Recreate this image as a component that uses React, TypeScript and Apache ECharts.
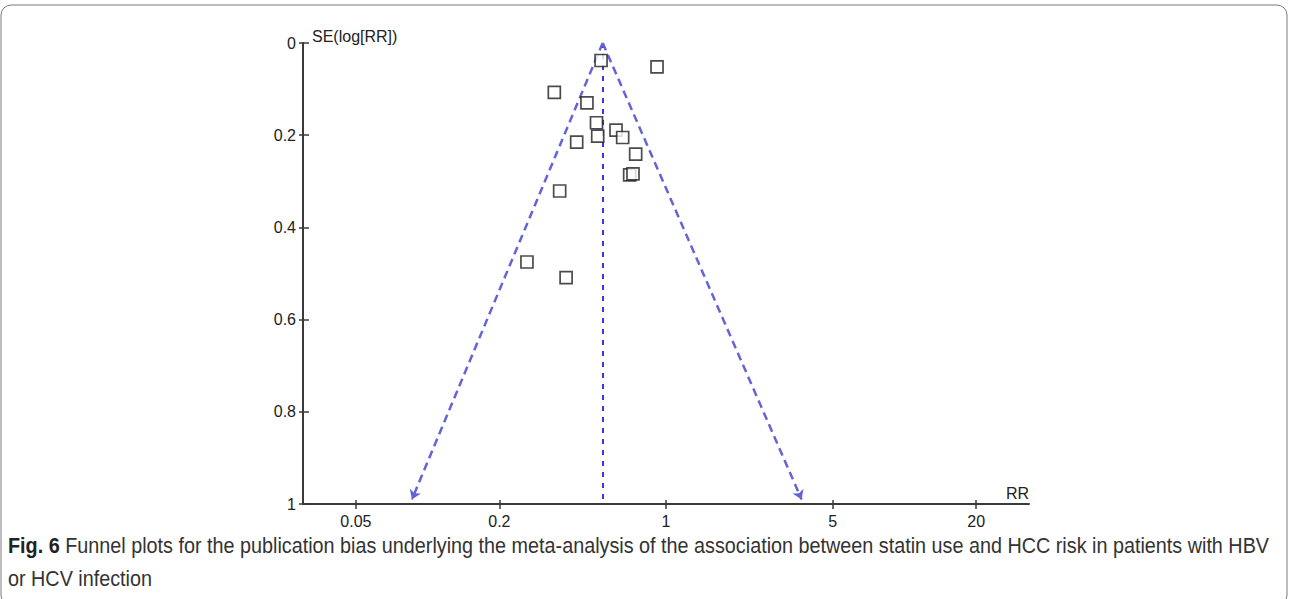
import React, { useEffect, useRef } from "react";
import * as echarts from "echarts";

// Study estimates
const rrValues = [0.534, 0.917, 0.340, 0.466, 0.511, 0.517, 0.617, 0.658, 0.422, 0.746, 0.704, 0.727, 0.358, 0.261, 0.381];
const seValues = [0.038, 0.052, 0.107, 0.130, 0.173, 0.202, 0.189, 0.205, 0.215, 0.241, 0.286, 0.284, 0.321, 0.475, 0.509];

// Funnel (pooled estimate and the ends of the pseudo-confidence lines)
const pooledRR = 0.5425;
const funnelTipRR = [0.0859, 3.706];
const funnelTipSE = 0.99;

// Axes
const xTickValues = [0.05, 0.2, 1, 5, 20];
const xRange = [0.03, 33.33];
const yRange = [0, 1];
const yInterval = 0.2;

const captionBold = "Fig. 6";
const captionLine1 =
  " Funnel plots for the publication bias underlying the meta-analysis of the association between statin use and HCC risk in patients with HBV";
const captionLine2 = "or HCV infection";

const AXIS_COLOR = "#3a3a3a";
const LABEL_FONT = "'Liberation Sans', Arial, sans-serif";
const CAPTION_FONT = "'Liberation Sans', Arial, sans-serif";
const CAPTION_SCALE = 0.9;
const CAPTION_SIZE = 22;

export default function App() {
  const ref = useRef<HTMLDivElement>(null);

  useEffect(() => {
    if (!ref.current) return;
    const chart = echarts.init(ref.current, null, { renderer: "svg" });
    const lg = (v: number) => Math.log10(v);
    const xTicksLog = xTickValues.map(lg);
    const fmtX = (v: number) => String(Number(Math.pow(10, v).toPrecision(3)));

    const xBase = {
      type: "value" as const,
      min: lg(xRange[0]),
      max: lg(xRange[1]),
      splitLine: { show: false },
      position: "bottom" as const,
    };
    const yBase = {
      type: "value" as const,
      min: yRange[0],
      max: yRange[1],
      interval: yInterval,
      inverse: true,
      splitLine: { show: false },
      position: "left" as const,
    };

    const option: any = {
      animation: false,
      backgroundColor: "#ffffff",
      grid: { left: 303, top: 43, width: 726, height: 461, containLabel: false },
      xAxis: [
        {
          ...xBase,
          axisLine: { show: true, onZero: false, lineStyle: { color: AXIS_COLOR, width: 2 } },
          axisTick: { show: true, length: 5, inside: false, customValues: xTicksLog, lineStyle: { color: AXIS_COLOR, width: 1.5 } },
          axisLabel: {
            show: true,
            customValues: xTicksLog,
            formatter: fmtX,
            margin: 9,
            color: "#222",
            fontSize: 16,
            fontFamily: LABEL_FONT,
          },
        },
        {
          ...xBase,
          axisLine: { show: false, onZero: false },
          axisTick: { show: true, length: 4, inside: true, customValues: xTicksLog, lineStyle: { color: AXIS_COLOR, width: 1.5 } },
          axisLabel: { show: false },
        },
      ],
      yAxis: [
        {
          ...yBase,
          axisLine: { show: true, onZero: false, lineStyle: { color: AXIS_COLOR, width: 2 } },
          axisTick: { show: true, length: 4, inside: false, lineStyle: { color: AXIS_COLOR, width: 1.5 } },
          axisLabel: {
            show: true,
            margin: 7,
            color: "#222",
            fontSize: 16,
            fontFamily: LABEL_FONT,
            formatter: (v: number) => String(Number(v.toFixed(1))),
          },
        },
        {
          ...yBase,
          axisLine: { show: false, onZero: false },
          axisTick: { show: true, length: 6, inside: true, lineStyle: { color: AXIS_COLOR, width: 1.5 } },
          axisLabel: { show: false },
        },
      ],
      series: [
        {
          type: "line",
          xAxisIndex: 0,
          yAxisIndex: 0,
          data: [],
          z: 2,
          markLine: {
            silent: true,
            animation: false,
            label: { show: false },
            data: [
              [
                { coord: [lg(pooledRR), 0], symbol: "none", lineStyle: { color: "#3838e0", width: 2, type: [5, 6] } },
                { coord: [lg(pooledRR), funnelTipSE], symbol: "none" },
              ],
              [
                { coord: [lg(pooledRR), 0], symbol: "none", lineStyle: { color: "#6464d8", width: 2.5, type: [8, 5] } },
                { coord: [lg(funnelTipRR[0]), funnelTipSE], symbol: "arrow", symbolSize: 9 },
              ],
              [
                { coord: [lg(pooledRR), 0], symbol: "none", lineStyle: { color: "#6464d8", width: 2.5, type: [8, 5] } },
                { coord: [lg(funnelTipRR[1]), funnelTipSE], symbol: "arrow", symbolSize: 9 },
              ],
            ],
            itemStyle: { color: "#6464d8" },
          },
        },
        {
          type: "scatter",
          xAxisIndex: 0,
          yAxisIndex: 0,
          z: 5,
          symbol: "rect",
          symbolSize: 12,
          itemStyle: { color: "#ffffff", borderColor: "#1e1e1e", borderWidth: 1.7 },
          data: rrValues.map((r, i) => [lg(r), seValues[i]]),
        },
      ],
      graphic: [
        {
          type: "rect",
          silent: true,
          shape: { x: 1, y: 5, width: 1286, height: 600, r: 10 },
          style: { fill: "none", stroke: "#7a7a7a", lineWidth: 1 },
          z: -1,
        },
        {
          type: "text",
          x: 312,
          y: 36,
          style: {
            text: "SE(log[RR])",
            fill: "#222",
            font: `16px ${LABEL_FONT}`,
            textAlign: "left",
            textVerticalAlign: "middle",
          },
        },
        {
          type: "text",
          x: 1029,
          y: 493,
          style: {
            text: "RR",
            fill: "#222",
            font: `16px ${LABEL_FONT}`,
            textAlign: "right",
            textVerticalAlign: "middle",
          },
        },
        {
          type: "text",
          x: 8,
          y: 545,
          scaleX: CAPTION_SCALE,
          style: {
            text: `{b|${captionBold}}${captionLine1}`,
            fill: "#333",
            fontSize: CAPTION_SIZE,
            fontFamily: CAPTION_FONT,
            textAlign: "left",
            textVerticalAlign: "middle",
            rich: {
              b: { fontWeight: "bold", fontSize: CAPTION_SIZE, fontFamily: CAPTION_FONT, fill: "#222" },
            },
          },
        },
        {
          type: "text",
          x: 8,
          y: 578,
          scaleX: CAPTION_SCALE,
          style: {
            text: captionLine2,
            fill: "#333",
            fontSize: CAPTION_SIZE,
            fontFamily: CAPTION_FONT,
            textAlign: "left",
            textVerticalAlign: "middle",
          },
        },
      ],
    };

    chart.setOption(option);
    return () => chart.dispose();
  }, []);

  return (
    <div
      ref={ref}
      style={{ position: "fixed", left: 0, top: 0, width: 1290, height: 599, background: "#fff" }}
    />
  );
}
